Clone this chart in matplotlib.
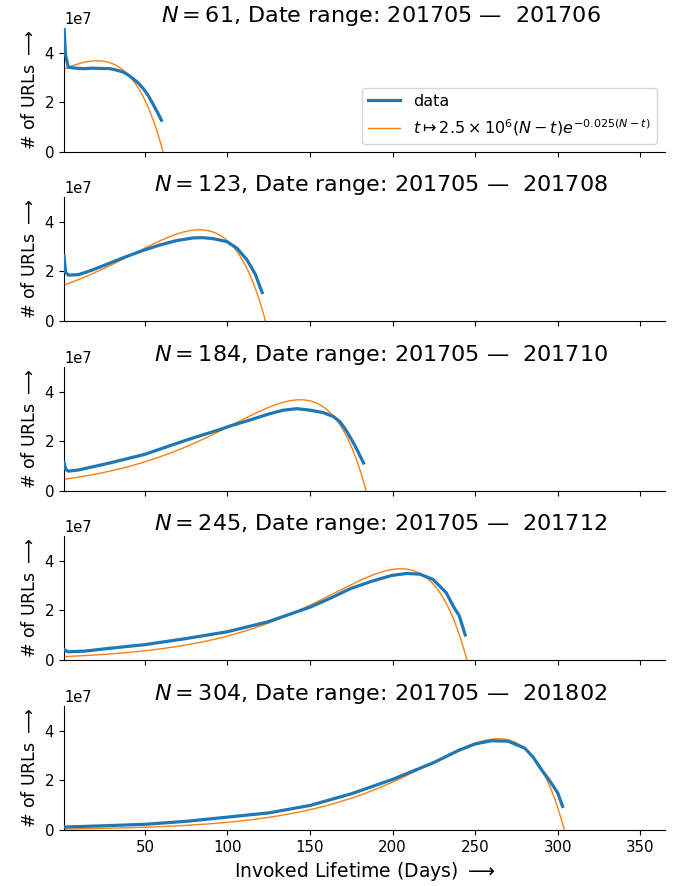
import numpy as np
import matplotlib
matplotlib.use("Agg")
import matplotlib.pyplot as plt

# Observation windows (N days each) and their date ranges
windows = [61, 123, 184, 245, 304]
start_month = "201705"
end_months = ["201706", "201708", "201710", "201712", "201802"]

# Measured URL counts per invoked-lifetime day (values in units of 1e7)
days_61 = [1, 2, 3.6, 8, 13, 18, 23, 29, 33, 37, 40, 43, 46, 49, 52, 55, 58, 60]
urls_61 = [5.0, 3.9, 3.42, 3.38, 3.36, 3.38, 3.37, 3.36, 3.30, 3.22, 3.10, 2.95, 2.78, 2.56, 2.28, 1.92, 1.55, 1.28]

days_123 = [1, 2, 3.7, 9.8, 18, 28.2, 38.4, 50, 58.8, 69, 79.2, 85.3, 91.4, 99.6, 105.7, 111.8,
            116.9, 121]
urls_123 = [2.63, 1.96, 1.85, 1.87, 2.05, 2.32, 2.59, 2.87, 3.06, 3.24, 3.35, 3.36, 3.32, 3.20, 2.94,
            2.47, 1.88, 1.15]

days_184 = [1, 2, 3.6, 10, 18, 30, 50, 75, 95.5, 101.5, 113.6, 120, 125.8, 133.9, 142, 150, 158.1,
            164.2, 168.3, 172.3, 176.4, 179.4, 182.4]
urls_184 = [1.15, 0.88, 0.80, 0.85, 0.97, 1.15, 1.48, 2.05, 2.48, 2.62, 2.86, 3.0, 3.12, 3.26, 3.32,
            3.26, 3.16, 3.0, 2.78, 2.40, 1.93, 1.54, 1.13]

days_245 = [1, 3.4, 14, 27, 50, 74.5, 100, 124.5, 150, 161.3, 174.5, 187.6, 199.5, 208.7, 216.6,
            224.5, 232.4, 237.6, 240.3, 244]
urls_245 = [0.42, 0.33, 0.36, 0.46, 0.62, 0.86, 1.14, 1.54, 2.13, 2.46, 2.88, 3.18, 3.41, 3.49, 3.46,
            3.25, 2.72, 2.07, 1.80, 1.01]

days_304 = [1, 25, 50, 75, 100, 125, 150, 175, 200, 225, 240, 250, 260, 270, 280, 285, 290,
            295, 300, 303]
urls_304 = [0.12, 0.17, 0.23, 0.35, 0.52, 0.69, 0.99, 1.46, 2.04, 2.72, 3.21, 3.47, 3.60, 3.58,
            3.30, 2.95, 2.45, 2.0, 1.5, 0.95]

series_days = [days_61, days_123, days_184, days_245, days_304]
series_urls = [urls_61, urls_123, urls_184, urls_245, urls_304]

# Model curve parameters: t -> A (N - t) exp(-k (N - t))
A = 2.5e6
k = 0.025

xticks = [50, 100, 150, 200, 250, 300, 350]
yticks = [0, 2e7, 4e7]

fig = plt.figure(figsize=(6.78, 8.86), dpi=100)
left, right = 64 / 678, 665 / 678
tops = [28, 197, 367, 536, 706]
height = 124

axes = []
for i, (N, end, d, u) in enumerate(zip(windows, end_months, series_days, series_urls)):
    ax = fig.add_axes([left, 1 - (tops[i] + height) / 886, right - left, height / 886])
    axes.append(ax)
    ax.plot(d, np.array(u) * 1e7, color="#1f77b4", lw=2.3, label="data", zorder=3)
    t = np.linspace(1, N, 400)
    ax.plot(t, A * (N - t) * np.exp(-k * (N - t)), color="#ff7f0e", lw=1.0,
            label=r"$t \mapsto 2.5 \times 10^6 (N - t) e^{-0.025 (N - t)}$", zorder=2)
    ax.set_xlim(1, 365)
    ax.set_ylim(0, 5e7)
    ax.set_xticks(xticks)
    ax.set_yticks(yticks)
    ax.spines["top"].set_visible(False)
    ax.spines["right"].set_visible(False)
    ax.tick_params(labelsize=10.8)
    ax.yaxis.get_offset_text().set_fontsize(10.5)
    ax.set_ylabel(r"# of URLs $\longrightarrow$", fontsize=12.5)
    ax.set_title(rf"$N = {N}$, Date range: {start_month} —  {end}", fontsize=16, x=0.527, pad=2)
    if i < len(windows) - 1:
        ax.tick_params(labelbottom=False)
    else:
        ax.set_xlabel(r"Invoked Lifetime (Days) $\longrightarrow$", fontsize=13.5)

axes[0].legend(loc="lower right", fontsize=11.5)

fig.savefig("out.png", dpi=100)
